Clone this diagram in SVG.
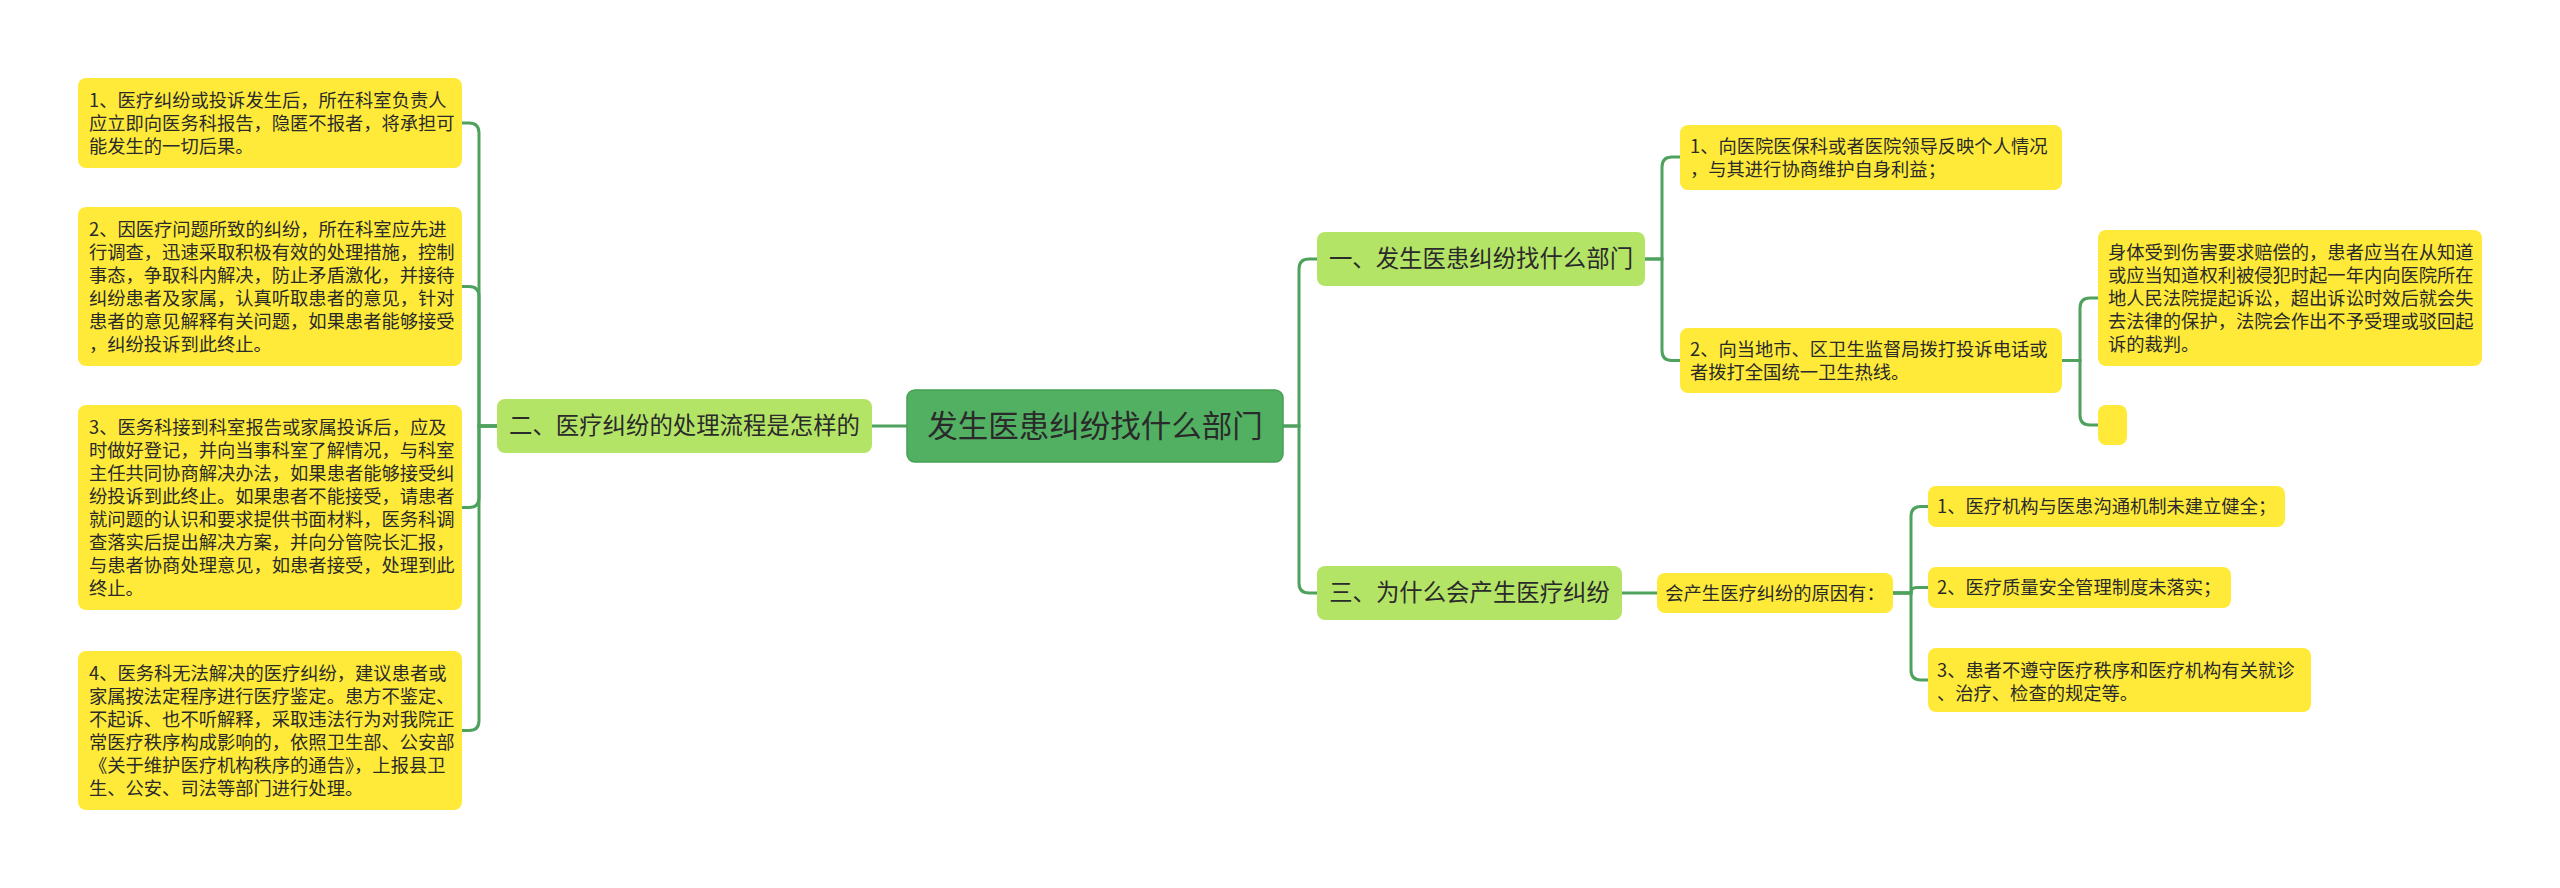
<svg xmlns="http://www.w3.org/2000/svg" width="2560" height="888" viewBox="0 0 2560 888">
<style>
text{font-family:"Noto Sans CJK SC","Microsoft YaHei","Noto Sans",sans-serif;fill:#2a2a2a}
.leaf rect{fill:#ffea3a}
.leaf text{font-size:18.3px}
.l1 rect{fill:#b4e466}
.l1 text{font-size:23.4px;text-anchor:middle}
.root rect{fill:#52b062;stroke:#45a052;stroke-width:1.5}
.root text{font-size:30.5px;text-anchor:middle}
.mid text{text-anchor:middle}
#connectors path{fill:none;stroke:#4fa25e;stroke-width:3}
</style>
<rect width="2560" height="888" fill="#ffffff"/>
<g id="connectors">
<path d="M907,426 H872"/>
<path d="M497,426 H479 V133 Q479,123 469,123 H462"/>
<path d="M497,426 H479 V296.5 Q479,286.5 469,286.5 H462"/>
<path d="M497,426 H479 V497.5 Q479,507.5 469,507.5 H462"/>
<path d="M497,426 H479 V720.5 Q479,730.5 469,730.5 H462"/>
<path d="M1283,426 H1299 V269 Q1299,259 1309,259 H1317"/>
<path d="M1283,426 H1299 V583 Q1299,593 1309,593 H1317"/>
<path d="M1645,259 H1662 V167 Q1662,157 1672,157 H1680"/>
<path d="M1645,259 H1662 V350.5 Q1662,360.5 1672,360.5 H1680"/>
<path d="M2062,360.5 H2080 V308 Q2080,298 2090,298 H2098"/>
<path d="M2062,360.5 H2080 V415 Q2080,425 2090,425 H2098"/>
<path d="M1622,593 H1657"/>
<path d="M1893,593 H1911 V516.5 Q1911,506.5 1921,506.5 H1928"/>
<path d="M1893,593 H1911 Q1911,587.5 1916.5,587.5 H1928"/>
<path d="M1893,593 H1911 V670 Q1911,680 1921,680 H1928"/>
</g>
<g id="root" class="root">
<rect x="907" y="390" width="376" height="72" rx="8"/>
<text x="1095" y="437">发生医患纠纷找什么部门</text>
</g>
<g id="n2" class="l1">
<rect x="497" y="399" width="375" height="54" rx="8"/>
<text x="684.5" y="434.4">二、医疗纠纷的处理流程是怎样的</text>
</g>
<g id="n2-1" class="leaf">
<rect x="78" y="78" width="384" height="90" rx="8"/>
<text x="89" y="106.6">1、医疗纠纷或投诉发生后，所在科室负责人</text>
<text x="89" y="129.6">应立即向医务科报告，隐匿不报者，将承担可</text>
<text x="89" y="152.6">能发生的一切后果。</text>
</g>
<g id="n2-2" class="leaf">
<rect x="78" y="207" width="384" height="159" rx="8"/>
<text x="89" y="235.6">2、因医疗问题所致的纠纷，所在科室应先进</text>
<text x="89" y="258.6">行调查，迅速采取积极有效的处理措施，控制</text>
<text x="89" y="281.6">事态，争取科内解决，防止矛盾激化，并接待</text>
<text x="89" y="304.6">纠纷患者及家属，认真听取患者的意见，针对</text>
<text x="89" y="327.6">患者的意见解释有关问题，如果患者能够接受</text>
<text x="89" y="350.6">，纠纷投诉到此终止。</text>
</g>
<g id="n2-3" class="leaf">
<rect x="78" y="405" width="384" height="205" rx="8"/>
<text x="89" y="433.6">3、医务科接到科室报告或家属投诉后，应及</text>
<text x="89" y="456.6">时做好登记，并向当事科室了解情况，与科室</text>
<text x="89" y="479.6">主任共同协商解决办法，如果患者能够接受纠</text>
<text x="89" y="502.6">纷投诉到此终止。如果患者不能接受，请患者</text>
<text x="89" y="525.6">就问题的认识和要求提供书面材料，医务科调</text>
<text x="89" y="548.6">查落实后提出解决方案，并向分管院长汇报，</text>
<text x="89" y="571.6">与患者协商处理意见，如患者接受，处理到此</text>
<text x="89" y="594.6">终止。</text>
</g>
<g id="n2-4" class="leaf">
<rect x="78" y="651" width="384" height="159" rx="8"/>
<text x="89" y="679.6">4、医务科无法解决的医疗纠纷，建议患者或</text>
<text x="89" y="702.6">家属按法定程序进行医疗鉴定。患方不鉴定、</text>
<text x="89" y="725.6">不起诉、也不听解释，采取违法行为对我院正</text>
<text x="89" y="748.6">常医疗秩序构成影响的，依照卫生部、公安部</text>
<text x="89" y="771.6">《关于维护医疗机构秩序的通告》，上报县卫</text>
<text x="89" y="794.6">生、公安、司法等部门进行处理。</text>
</g>
<g id="n1" class="l1">
<rect x="1317" y="232" width="328" height="54" rx="8"/>
<text x="1481" y="267.4">一、发生医患纠纷找什么部门</text>
</g>
<g id="n1-1" class="leaf">
<rect x="1680" y="125" width="382" height="65" rx="8"/>
<text x="1690" y="152.6">1、向医院医保科或者医院领导反映个人情况</text>
<text x="1690" y="175.6">，与其进行协商维护自身利益；</text>
</g>
<g id="n1-2" class="leaf">
<rect x="1680" y="328" width="382" height="65" rx="8"/>
<text x="1690" y="355.6">2、向当地市、区卫生监督局拨打投诉电话或</text>
<text x="1690" y="378.6">者拨打全国统一卫生热线。</text>
</g>
<g id="n1-2-1" class="leaf">
<rect x="2098" y="230" width="384" height="136" rx="8"/>
<text x="2108" y="258.6">身体受到伤害要求赔偿的，患者应当在从知道</text>
<text x="2108" y="281.6">或应当知道权利被侵犯时起一年内向医院所在</text>
<text x="2108" y="304.6">地人民法院提起诉讼，超出诉讼时效后就会失</text>
<text x="2108" y="327.6">去法律的保护，法院会作出不予受理或驳回起</text>
<text x="2108" y="350.6">诉的裁判。</text>
</g>
<g id="n1-2-2" class="leaf">
<rect x="2098" y="405" width="29" height="40" rx="8"/>
</g>
<g id="n3" class="l1">
<rect x="1317" y="566" width="305" height="54" rx="8"/>
<text x="1469.5" y="601.4">三、为什么会产生医疗纠纷</text>
</g>
<g id="n3-1" class="leaf mid">
<rect x="1657" y="573" width="236" height="40" rx="8"/>
<text x="1775" y="599.6">会产生医疗纠纷的原因有：</text>
</g>
<g id="n3-1-1" class="leaf">
<rect x="1928" y="486" width="357" height="41" rx="8"/>
<text x="1937" y="513">1、医疗机构与医患沟通机制未建立健全；</text>
</g>
<g id="n3-1-2" class="leaf">
<rect x="1928" y="567" width="303" height="41" rx="8"/>
<text x="1937" y="594">2、医疗质量安全管理制度未落实；</text>
</g>
<g id="n3-1-3" class="leaf">
<rect x="1928" y="648" width="383" height="64" rx="8"/>
<text x="1937" y="676.6">3、患者不遵守医疗秩序和医疗机构有关就诊</text>
<text x="1937" y="699.6">、治疗、检查的规定等。</text>
</g>
</svg>
